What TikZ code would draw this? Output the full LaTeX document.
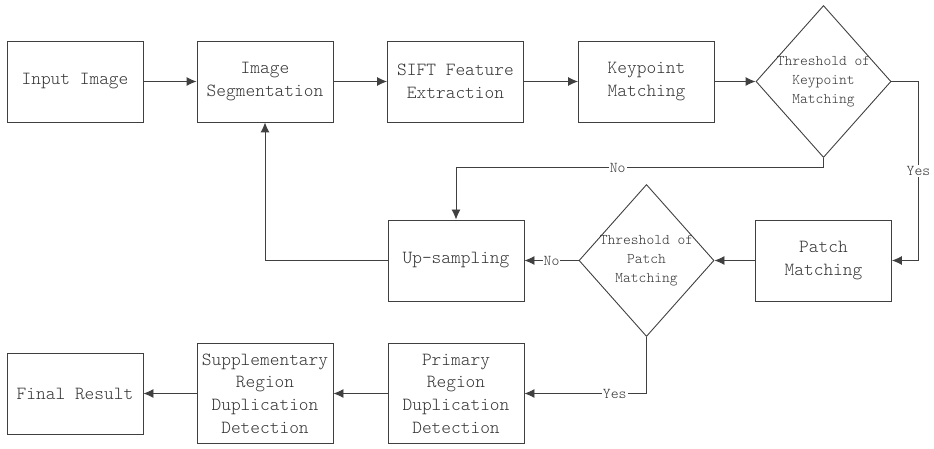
\documentclass[tikz,border=0pt]{standalone}
\usepackage{fontspec}
\setmonofont{Latin Modern Mono Light}
\usetikzlibrary{shapes.geometric,arrows.meta}
\begin{document}
\begin{tikzpicture}[x=1pt,y=-1pt,
  line/.style={draw=black!75,line width=0.9pt},
  box/.style={line, rectangle, minimum width=136pt, minimum height=81pt, inner sep=0pt, align=center,
    text=black!80, font=\ttfamily\fontsize{18.5}{22.7}\selectfont},
  dia/.style={line, diamond, minimum width=135pt, minimum height=152pt, inner sep=0pt},
  diatext/.style={align=center, inner sep=0pt, text=black!80, font=\ttfamily\fontsize{14.8}{18.7}\selectfont},
  arr/.style={line, -{Latex[length=10pt,width=9pt]}},
  lbl/.style={fill=white, inner sep=1pt, text=black!80, font=\ttfamily\fontsize{15}{16}\selectfont}]
\useasboundingbox (0,0) rectangle (934,449);
% top row
\node[box] (in) at (75,81.5) {Input Image};
\node[box] (seg) at (265,81.5) {Image\\Segmentation};
\node[box] (sift) at (455.5,81.5) {SIFT Feature\\Extraction};
\node[box] (kp) at (646.5,81.5) {Keypoint\\Matching};
\node[dia] (d1) at (823.5,81.5) {};
\node[diatext] (d1t) at (823.5,81.5) {Threshold of\\Keypoint\\Matching};
% middle row
\node[box] (pm) at (823.5,260.5) {Patch\\Matching};
\node[dia] (d2) at (646.5,260.5) {};
\node[diatext] (d2t) at (646.5,260.5) {Threshold of\\Patch\\Matching};
\node[box] (up) at (456,260.5) {Up-sampling};
% bottom row
\node[box, minimum height=100pt] (prim) at (456,393.5) {Primary\\Region\\Duplication\\Detection};
\node[box, minimum height=100pt] (supp) at (265,393.5) {Supplementary\\Region\\Duplication\\Detection};
\node[box] (fin) at (75,393.5) {Final Result};
% connectors
\draw[arr] (in) -- (seg);
\draw[arr] (seg) -- (sift);
\draw[arr] (sift) -- (kp);
\draw[arr] (kp) -- (d1);
\draw[arr] (d1.east) -- ++(27,0) |- node[lbl,pos=0.25]{Yes} (pm.east);
\draw[arr] (d1.south) -- ++(0,10) -| node[lbl,pos=0.28]{No} (up.north);
\draw[arr] (pm) -- (d2.east);
\draw[arr] (d2.west) -- node[lbl]{No} (up.east);
\draw[arr] (up.west) -| (seg.south);
\draw[arr] (d2.south) |- node[lbl,pos=0.63]{Yes} (prim.east);
\draw[arr] (prim) -- (supp);
\draw[arr] (supp) -- (fin);
\end{tikzpicture}
\end{document}
